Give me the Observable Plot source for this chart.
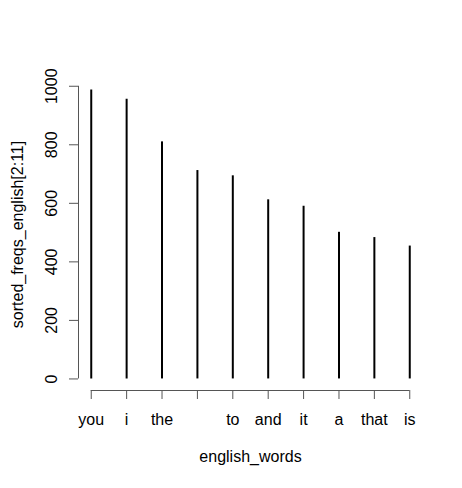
<!DOCTYPE html>
<html>
<head>
<meta charset="utf-8">
<script src="https://cdn.jsdelivr.net/npm/d3@7"></script>
<script src="https://cdn.jsdelivr.net/npm/@observablehq/plot@0.6"></script>
<style>
  html, body { margin: 0; padding: 0; background: #fff; }
  svg { display: block; }
</style>
</head>
<body>
<div id="chart"></div>
<script>
// Data
const words = ["you", "i", "the", "", "to", "and", "it", "a", "that", "is"];
const freqs = [987, 956, 810, 712, 694, 612, 590, 501, 483, 454];
const yTicks = [0, 200, 400, 600, 800, 1000];
const xLabel = "english_words";
const yLabel = "sorted_freqs_english[2:11]";

const data = words.map((w, i) => ({idx: i + 1, word: w, freq: freqs[i]}));

// R-style 4% axis padding
const n = words.length;
const xPad = 0.04 * (n - 1);
const xDomain = [1 - xPad, n + xPad];
const yMax = d3.max(freqs);
const yMin = 0;
const yPad = 0.04 * (yMax - yMin);
const yDomain = [yMin - yPad, yMax + yPad];

const axisColor = "#555";
const font = "'Liberation Sans', Arial, Helvetica, sans-serif";

const chart = Plot.plot({
  width: 462,
  height: 488,
  marginLeft: 78,
  marginRight: 40,
  marginTop: 78,
  marginBottom: 98,
  style: {fontFamily: font, fontSize: "16px", color: "#000", background: "#fff"},
  x: {type: "linear", domain: xDomain},
  y: {type: "linear", domain: yDomain},
  marks: [
    // axes (ticks only; labels drawn below)
    Plot.axisY({ticks: yTicks, tickSize: 9, tickFormat: () => "", label: null, stroke: axisColor}),
    Plot.axisX({ticks: d3.range(1, n + 1), tickSize: 9, tickFormat: () => "", label: null, stroke: axisColor}),
    Plot.ruleX([xDomain[0]], {y1: yTicks[0], y2: yTicks[yTicks.length - 1], stroke: axisColor}),
    Plot.ruleY([yDomain[0]], {x1: 1, x2: n, stroke: axisColor}),
    // tick labels
    Plot.text(yTicks, {y: d => d, text: d => String(d), frameAnchor: "left", dx: -22, rotate: -90,
      lineAnchor: "bottom", textAnchor: "middle", fill: "#000", fontSize: 16}),
    Plot.text(data, {x: "idx", text: "word", frameAnchor: "bottom", dy: 34.5,
      lineAnchor: "bottom", textAnchor: "middle", fill: "#000", fontSize: 16}),
    // axis titles
    Plot.text([xLabel], {text: d => d, frameAnchor: "bottom", dy: 71.5, lineAnchor: "bottom",
      textAnchor: "middle", fill: "#000", fontSize: 16}),
    Plot.text([yLabel], {text: d => d, frameAnchor: "left", dx: -56, rotate: -90,
      lineAnchor: "bottom", textAnchor: "middle", fill: "#000", fontSize: 16}),
    // the "h" type spikes
    Plot.ruleX(data, {x: "idx", y1: 0, y2: "freq", stroke: "#000", strokeWidth: 2})
  ]
});

document.getElementById("chart").appendChild(chart);
</script>
</body>
</html>
